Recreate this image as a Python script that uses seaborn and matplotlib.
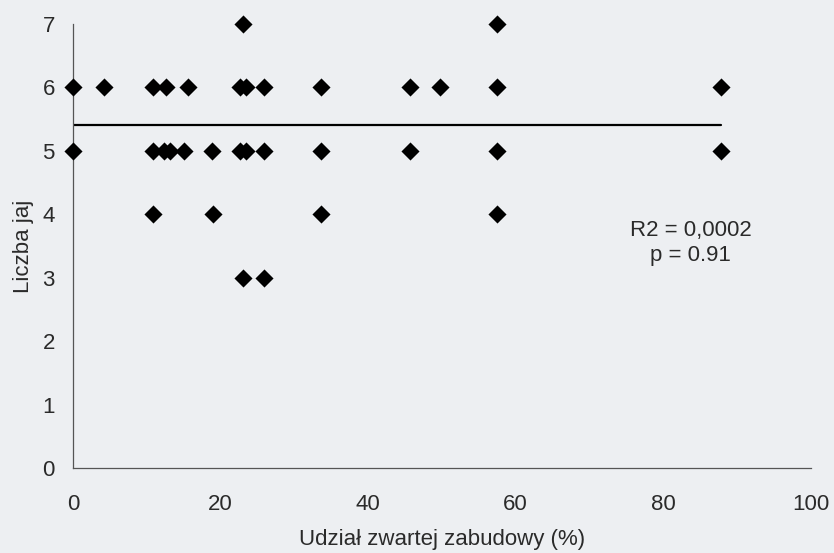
import matplotlib
matplotlib.use("Agg")
import matplotlib.pyplot as plt
import seaborn as sns
import pandas as pd

# Data (x = % of compact built-up area, y = number of eggs)
x_y7 = [23.0, 57.5]
x_y6 = [0.0, 4.2, 10.9, 12.6, 15.6, 22.7, 23.4, 25.9, 33.6, 45.7, 49.7, 57.5, 87.9]
x_y5 = [0.0, 10.9, 12.3, 13.1, 15.1, 18.9, 22.7, 23.4, 25.9, 33.6, 45.7, 57.5, 87.9]
x_y4 = [10.9, 19.0, 33.6, 57.5]
x_y3 = [23.0, 25.9]

trend_x = [0.0, 87.9]
trend_y = [5.40, 5.40]

x_ticks = [0, 20, 40, 60, 80, 100]
y_ticks = [0, 1, 2, 3, 4, 5, 6, 7]

x_label = "Udział zwartej zabudowy (%)"
y_label = "Liczba jaj"
annot_lines = ["R2 = 0,0002", "p = 0.91"]

rows = []
for yv, xs in [(7, x_y7), (6, x_y6), (5, x_y5), (4, x_y4), (3, x_y3)]:
    for xv in xs:
        rows.append({"x": xv, "y": yv})
df = pd.DataFrame(rows)
trend = pd.DataFrame({"x": trend_x, "y": trend_y})

sns.set_style("white")
plt.rcParams["font.family"] = ["Liberation Sans", "DejaVu Sans"]

bg = "#edeff2"
txt = "#2a2a2a"
fig = plt.figure(figsize=(8.34, 5.53), dpi=100, facecolor=bg)
ax = fig.add_axes([0.0875, 0.1537, 0.8845, 0.8029])
ax.set_facecolor(bg)

sns.scatterplot(data=df, x="x", y="y", marker="D", s=85, color="black",
                linewidth=0, ax=ax, legend=False, zorder=3, clip_on=False)
sns.lineplot(data=trend, x="x", y="y", color="black", linewidth=1.6, ax=ax,
             zorder=2)

ax.set_xlim(0, 100)
ax.set_ylim(0, 7)
ax.set_xticks(x_ticks)
ax.set_yticks(y_ticks)
ax.set_xticklabels([str(t) for t in x_ticks], fontsize=16, color=txt)
ax.set_yticklabels([str(t) for t in y_ticks], fontsize=16, color=txt)
ax.tick_params(axis="x", direction="out", length=5, width=0.9, color="#555555", pad=14)
ax.tick_params(axis="y", direction="out", length=5, width=0.9, color="#555555", pad=8)

for side in ["top", "right"]:
    ax.spines[side].set_visible(False)
for side in ["left", "bottom"]:
    ax.spines[side].set_color("#555555")
    ax.spines[side].set_linewidth(0.9)

ax.set_xlabel(x_label, fontsize=16, color=txt, labelpad=10)
ax.set_ylabel(y_label, fontsize=16, color=txt, labelpad=6)

ax.text(83.7, 3.55, "\n".join(annot_lines), ha="center", va="center",
        fontsize=16, color=txt, linespacing=1.24)

fig.savefig("out.png", dpi=100, facecolor=bg)
